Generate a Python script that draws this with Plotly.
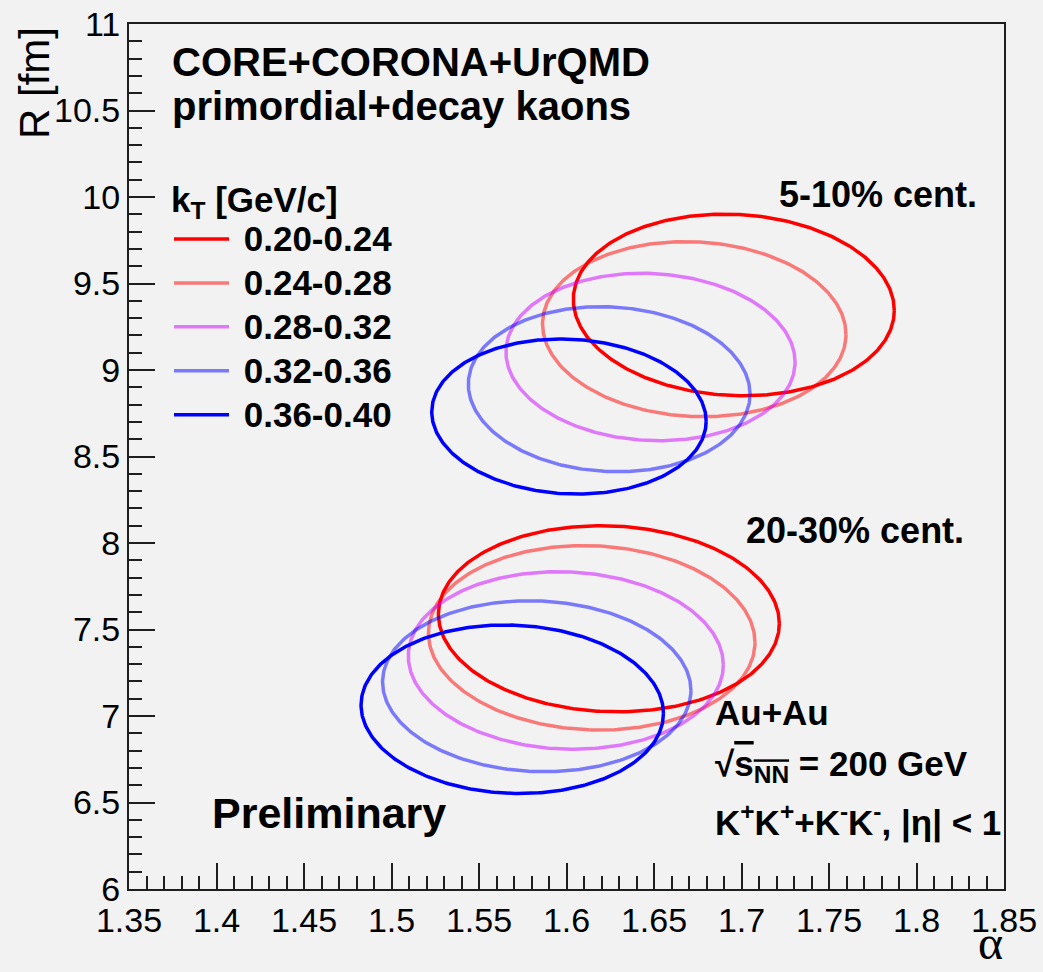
import numpy as np
import plotly.graph_objects as go

# ---------------- data ----------------
kt_labels = ["0.20-0.24", "0.24-0.28", "0.28-0.32", "0.32-0.36", "0.36-0.40"]
kt_colors = ["rgb(255,0,0)", "rgba(255,0,0,0.5)", "rgba(204,0,255,0.5)",
             "rgba(0,0,255,0.5)", "rgb(0,0,255)"]

# 5-10% centrality: ellipse centre (alpha, R), half extents, tilt parameter
cent1_alpha = [1.6956, 1.6730, 1.6480, 1.6244, 1.6014]
cent1_R = [9.376, 9.236, 9.075, 8.889, 8.731]
cent1_dalpha = [0.0917, 0.0867, 0.0826, 0.0805, 0.0784]
cent1_dR = [0.525, 0.506, 0.484, 0.477, 0.448]
cent1_tilt = [-0.06, -0.06, -0.06, -0.06, -0.06]

# 20-30% centrality
cent2_alpha = [1.6242, 1.6144, 1.5996, 1.5830, 1.5690]
cent2_R = [7.562, 7.452, 7.321, 7.172, 7.039]
cent2_dalpha = [0.0974, 0.0933, 0.0900, 0.0881, 0.0864]
cent2_dR = [0.538, 0.533, 0.513, 0.494, 0.487]
cent2_tilt = [-0.05, -0.05, -0.05, -0.05, -0.05]

x_range = [1.35, 1.85]
y_range = [6, 11]

# ---------------- figure ----------------
BG = "rgb(242,242,242)"
AX = "rgb(30,30,30)"
SANS = "Liberation Sans, Arial, sans-serif"

fig = go.Figure()
t = np.linspace(0, 2 * np.pi, 361)


def add_group(ca, cr, da, dr, tilt, show):
    for i in range(len(kt_labels)):
        xs = ca[i] + da[i] * np.cos(t)
        ys = cr[i] + dr[i] * np.sin(t + tilt[i])
        fig.add_trace(go.Scatter(
            x=xs, y=ys, mode="lines",
            name='<span style="font-size:35px">\u00a0' + kt_labels[i] + '</span>',
            line=dict(color=kt_colors[i], width=3.5),
            showlegend=show, hoverinfo="skip"))


add_group(cent1_alpha, cent1_R, cent1_dalpha, cent1_dR, cent1_tilt, True)
add_group(cent2_alpha, cent2_R, cent2_dalpha, cent2_dR, cent2_tilt, False)

L, R_, T, B = 129, 39, 24, 83
W, H = 1043, 972
PW, PH = W - L - R_, H - T - B


def px(xp):
    return (xp - L) / PW


def py(yp):
    return (H - B - yp) / PH


def ann(text, x, y, size, xanchor="left", yanchor="middle", bold=True,
        family=SANS, angle=0):
    fig.add_annotation(
        text=("<b>" + text + "</b>") if bold else text,
        x=px(x), y=py(y), xref="paper", yref="paper",
        xanchor=xanchor, yanchor=yanchor, showarrow=False, textangle=angle,
        font=dict(size=size, color="black", family=family))


ann("CORE+CORONA+UrQMD", 170, 62, 40)
ann("primordial+decay kaons", 170, 106, 40)
ann("5-10% cent.", 979, 194, 36, xanchor="right")
ann("20-30% cent.", 966, 530, 36, xanchor="right")
ann("Au+Au", 713, 712, 35)
ann('√<span style="text-decoration:overline">s<sub>NN</sub></span> = 200 GeV',
    713, 766, 35)
ann("K<sup>+</sup>K<sup>+</sup>+K<sup>-</sup>K<sup>-</sup>, |η| &lt; 1", 713, 820, 35)
ann("Preliminary", 210, 813, 43)
ann("R [fm]", 34, 25, 42, xanchor="center", yanchor="top", bold=False, angle=-90)
ann("α", 990, 971, 48, xanchor="center", yanchor="bottom", bold=False,
    family="Liberation Serif, Times New Roman, serif")

axis_common = dict(
    showline=True, linecolor=AX, linewidth=2, mirror=True,
    ticks="inside", ticklen=26, tickwidth=1.5, tickcolor=AX,
    showgrid=False, zeroline=False,
    tickfont=dict(size=34, color="black", family=SANS),
)

fig.update_xaxes(range=x_range, dtick=0.05, tick0=1.35,
                 minor=dict(dtick=0.01, ticklen=13, tickwidth=1.5,
                            tickcolor=AX, ticks="inside"),
                 **axis_common)
fig.update_yaxes(range=y_range, dtick=0.5, tick0=6,
                 minor=dict(dtick=0.1, ticklen=13, tickwidth=1.5,
                            tickcolor=AX, ticks="inside"),
                 **axis_common)

fig.update_layout(
    width=W, height=H,
    margin=dict(l=L, r=R_, t=T, b=B, autoexpand=False),
    paper_bgcolor=BG, plot_bgcolor=BG,
    showlegend=True,
    legend=dict(
        x=px(169), y=py(171), xanchor="left", yanchor="top",
        bgcolor="rgba(0,0,0,0)", borderwidth=0,
        font=dict(size=31.5, color="black", family=SANS, weight="bold"),
        title=dict(text='<span style="font-size:35px">k<sub>T</sub> [GeV/c]</span>',
                   font=dict(size=31.5, color="black", family=SANS, weight="bold")),
        itemwidth=55, tracegroupgap=0,
    ),
)

fig.write_html("out.html")
